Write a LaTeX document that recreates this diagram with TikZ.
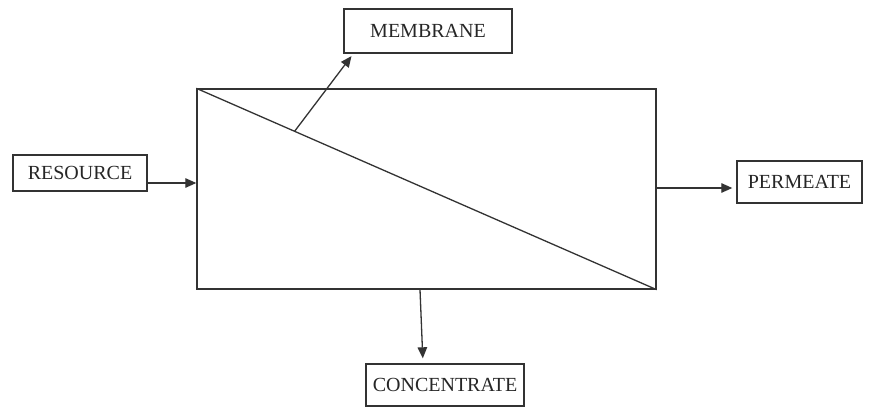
\documentclass[tikz,border=0pt]{standalone}
\usepackage{fontspec}
\setmainfont{Liberation Serif}
\usetikzlibrary{arrows.meta,calc}
\definecolor{ink}{HTML}{333333}
\tikzset{
  box/.style={draw=ink, line width=1.4pt, inner sep=0pt, font=\fontsize{20}{22}\selectfont, text=black!85},
  arr/.style={draw=ink, line width=1.3pt, -{Triangle[length=11pt,width=9.5pt]}},
}
\begin{document}
\begin{tikzpicture}[x=1pt,y=-1pt]
\useasboundingbox[fill=white] (0,0) rectangle (875,407);
\node[box, minimum width=459pt, minimum height=200pt] (main) at (426.5,189) {};
\coordinate (tl) at (main.north west);
\coordinate (br) at (main.south east);
\draw[ink, line width=1.3pt] (tl) -- (br);
\node[box, minimum width=168pt, minimum height=44pt] (mem) at (428,31) {MEMBRANE};
\node[box, minimum width=134pt, minimum height=36pt] (res) at (80,173) {RESOURCE};
\node[box, minimum width=125pt, minimum height=42pt] (perm) at (799.5,182) {PERMEATE};
\node[box, minimum width=158pt, minimum height=42pt] (conc) at (445,385) {CONCENTRATE};
\coordinate (m0) at ($(tl)!0.2135!(br)$);
\draw[arr, shorten >=3pt] (m0) -- ([xshift=10pt]mem.south west);
\coordinate (r1) at ([yshift=-10pt]res.east);
\draw[arr] (r1) -- (r1 -| main.west);
\coordinate (p1) at ([yshift=-6pt]perm.west);
\draw[arr, shorten >=4pt] (p1 -| main.east) -- (p1);
\coordinate (c0) at ([xshift=-6.5pt]main.south);
\draw[arr, shorten >=5pt] (c0) -- ([xshift=-22pt]conc.north);
\end{tikzpicture}
\end{document}
